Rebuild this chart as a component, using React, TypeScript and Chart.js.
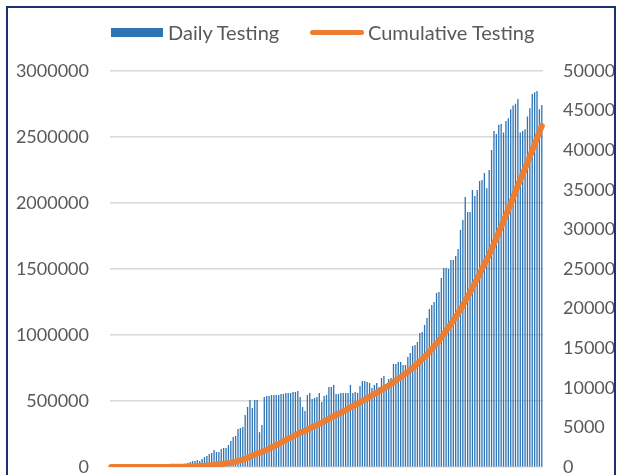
import React, { useEffect, useRef } from "react";
import { Chart, registerables } from "chart.js";

Chart.register(...registerables);

// Daily tests (right axis), one value per day
const dailyEarly: number[] = [0, 0, 0, 0, 0, 0, 0, 0, 0, 0, 0, 0, 5, 10, 12, 20, 30, 35, 50, 60, 80, 90, 110, 130, 150, 170, 200, 230, 260, 300, 350, 420];
const dailyRise: number[] = [505, 630, 760, 760, 880, 760, 1010, 1260, 1400, 1640, 1770, 2150, 1900, 1900, 2270, 2400, 2400, 2780, 3280, 3790, 3920, 4800, 4930, 5050, 6570, 7580, 8460, 7450, 8460, 8460, 4400, 5300, 8840, 8970, 8970, 9090, 9090, 9090, 9090, 9220, 9220, 9350, 9350, 9350, 9470, 9470, 9600];
const dailyPlateau: number[] = [8840, 7580, 7070, 9090, 9350, 8590, 8720, 8840, 9350, 8210, 8970, 9090, 10100, 10100, 10360, 9220, 9220, 9350, 9350, 9350, 9350, 10360, 9350, 9470, 9350, 10230, 10860, 10860, 10740, 10610, 9980, 10360, 10610, 10100];
const dailyGrowth: number[] = [11240, 11490, 10360, 11110, 11240, 13010, 13010, 13260, 13260, 12880, 12880, 13890, 14400, 15280, 15410, 15790, 16920, 17050, 17940, 18820, 19960, 20460, 20840];
const dailySurge: number[] = [21980, 22100, 23870, 25130, 25130, 25010, 26140, 26140, 26650, 27530, 29930, 31200, 34100, 32210, 32210, 34990, 34230, 34990, 36120, 36250, 37130];
const dailyPeak: number[] = [35200, 37510, 40040, 42440, 42060, 43200, 43320, 42220, 43700, 44040, 45180, 45630, 45850, 46480, 42220, 42440, 42650, 44240, 45300, 47110, 47330, 47490, 45180, 45720];

const dailyTesting: number[] = [...dailyEarly, ...dailyRise, ...dailyPlateau, ...dailyGrowth, ...dailySurge, ...dailyPeak];

// Cumulative tests (left axis) = running total of the daily tests
const cumulativeTesting: number[] = [];
dailyTesting.reduce((acc, v) => {
  const t = acc + v;
  cumulativeTesting.push(t);
  return t;
}, 0);

const categories: string[] = dailyTesting.map((_, i) => `Day ${i + 1}`);
const seriesNames = ["Daily Testing", "Cumulative Testing"];
const leftAxis = { min: 0, max: 3000000, step: 500000 };
const rightAxis = { min: 0, max: 50000, step: 5000 };

const BLUE = "#2E75B6";
const ORANGE = "#ED7D31";
const TEXT = "#595959";
const GRID = "#D9D9D9";
const FONT = "Lato, 'Noto Sans', sans-serif";

export default function App() {
  const ref = useRef<HTMLCanvasElement | null>(null);

  useEffect(() => {
    if (!ref.current) return;
    const chart = new Chart(ref.current, {
      type: "bar",
      data: {
        labels: categories,
        datasets: [
          {
            type: "line",
            label: seriesNames[1],
            data: cumulativeTesting,
            yAxisID: "y",
            borderColor: ORANGE,
            backgroundColor: ORANGE,
            borderWidth: 6,
            pointRadius: 0,
            tension: 0,
            borderCapStyle: "round",
            borderJoinStyle: "round",
            order: 0,
          } as any,
          {
            type: "bar",
            label: seriesNames[0],
            data: dailyTesting,
            yAxisID: "y1",
            backgroundColor: BLUE,
            barPercentage: 0.55,
            categoryPercentage: 1,
            order: 1,
          } as any,
        ],
      },
      options: {
        responsive: false,
        animation: false,
        events: [],
        layout: { padding: { top: 71, bottom: 53, left: 0, right: 0 } },
        plugins: { legend: { display: false }, tooltip: { enabled: false } },
        scales: {
          x: { display: false },
          y: {
            position: "left",
            min: leftAxis.min,
            max: leftAxis.max,
            border: { display: false },
            grid: { color: GRID, lineWidth: 1.5, drawTicks: false },
            ticks: {
              stepSize: leftAxis.step,
              padding: 21,
              color: TEXT,
              font: { family: FONT, size: 18 },
              callback: (v: any) => String(v),
            },
            afterFit: (s: any) => {
              s.width = 110;
            },
          },
          y1: {
            position: "right",
            min: rightAxis.min,
            max: rightAxis.max,
            border: { display: false },
            grid: { drawOnChartArea: false, drawTicks: false },
            ticks: {
              stepSize: rightAxis.step,
              padding: 20,
              color: TEXT,
              font: { family: FONT, size: 18 },
              callback: (v: any) => String(v),
            },
            afterFit: (s: any) => {
              s.width = 74;
            },
          },
        },
      } as any,
    });
    return () => chart.destroy();
  }, []);

  const textStyle: React.CSSProperties = {
    position: "absolute",
    top: 20,
    height: 24,
    lineHeight: "24px",
    fontFamily: FONT,
    fontSize: 20,
    color: TEXT,
    whiteSpace: "nowrap",
  };

  return (
    <div style={{ position: "fixed", left: 0, top: 0, width: 617, height: 475, overflow: "hidden", background: "#fff" }}>
      <canvas ref={ref} width={617} height={520} style={{ position: "absolute", left: 0, top: 0, display: "block" }} />
      <div
        style={{
          position: "absolute",
          left: 6,
          top: 6,
          width: 610,
          height: 600,
          border: "2px solid #1A3370",
          boxSizing: "border-box",
          pointerEvents: "none",
        }}
      />
      <div style={{ position: "absolute", left: 111, top: 28, width: 52, height: 9, background: BLUE }} />
      <div style={{ ...textStyle, left: 168 }}>{seriesNames[0]}</div>
      <div style={{ position: "absolute", left: 310, top: 30, width: 54, height: 5, borderRadius: 3, background: ORANGE }} />
      <div style={{ ...textStyle, left: 368 }}>{seriesNames[1]}</div>
    </div>
  );
}
